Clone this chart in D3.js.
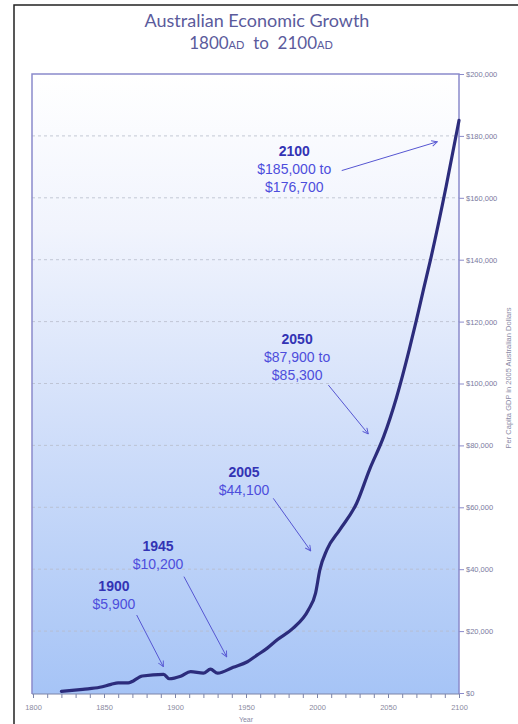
<!DOCTYPE html>
<html><head><meta charset="utf-8">
<script src="https://cdn.jsdelivr.net/npm/d3@7"></script>
<style>html,body{margin:0;padding:0;background:#fff;}svg{display:block;}</style>
</head><body>
<script>
const years = [1820,1835,1847,1855,1860,1867,1877,1892,1896,1904,1911,1920,1925,1930,1941,1951,1958,1965,1972,1983,1994,1999,2002,2007,2016,2028,2037,2047,2056,2065,2070,2075,2080,2091,2100];
const gdp   = [500,1200,1840,2800,3300,3300,5500,6000,4600,5400,6900,6400,7700,6400,8300,10100,12300,14500,17200,20900,26900,32300,39800,46300,52700,61400,72200,82900,95500,111000,120500,130400,140100,163800,185000];
const xTickLabels = [1800,1850,1900,1950,2000,2050,2100];
const yTickValues = [0,20000,40000,60000,80000,100000,120000,140000,160000,180000,200000];
const annYears  = ["2100","2050","2005","1945","1900"];
const annValues = [["$185,000 to","$176,700"],["$87,900 to","$85,300"],["$44,100"],["$10,200"],["$5,900"]];
// text anchor (year,value) and arrow from/to in data space
const annTextAt = [[1984,173500],[1986,112800],[1948.6,69800],[1888,45900],[1857,33000]];
const annFrom   = [[2017.4,168800],[2008,99500],[1969.2,62900],[1906.3,37600],[1873,25200]];
const annTo     = [[2084.7,178100],[2036.1,83700],[1995.6,45900],[1936.4,11700],[1891.8,8500]];

const W = 518, H = 724;
const svg = d3.select("body").append("svg").attr("width", W).attr("height", H);
const m = {left:32, right:459, top:74, bottom:694};

const x = d3.scaleLinear().domain([1800,2100]).range([33,459]);
const y = d3.scaleLinear().domain([0,200000]).range([693,74]);

// outer frame
svg.append("rect").attr("x",14).attr("y",5).attr("width",520).attr("height",740)
  .attr("fill","none").attr("stroke","#222").attr("stroke-width",1.5);

// title
svg.append("text").attr("x",257).attr("y",27).attr("text-anchor","middle")
  .attr("font-family","Lato, 'Open Sans', sans-serif").attr("font-size",18)
  .attr("fill","#5b5b9c").text("Australian Economic Growth");
const sub = svg.append("text").attr("x",261).attr("y",49).attr("text-anchor","middle")
  .attr("font-family","Lato, 'Open Sans', sans-serif").attr("font-size",17).attr("fill","#5b5b9c")
  .attr("xml:space","preserve");
sub.append("tspan").text("1800");
sub.append("tspan").attr("font-size",11).text("AD");
sub.append("tspan").text("  to  ");
sub.append("tspan").text("2100");
sub.append("tspan").attr("font-size",11).text("AD");

// gradient
const defs = svg.append("defs");
const g = defs.append("linearGradient").attr("id","bg").attr("x1",0).attr("y1",0).attr("x2",0).attr("y2",1);
[["0%","#ffffff"],["25%","#f1f4fd"],["55%","#d3e0fa"],["100%","#a6c4f6"]].forEach(s=>g.append("stop").attr("offset",s[0]).attr("stop-color",s[1]));
defs.append("marker").attr("id","ah").attr("viewBox","0 0 10 10").attr("refX",9).attr("refY",5)
  .attr("markerWidth",7).attr("markerHeight",7).attr("orient","auto")
  .append("path").attr("d","M1,1 L9,5 L1,9").attr("fill","none").attr("stroke","#5656d2").attr("stroke-width",1.3);

svg.append("rect").attr("x",m.left).attr("y",m.top).attr("width",m.right-m.left).attr("height",m.bottom-m.top)
  .attr("fill","url(#bg)");

// gridlines
svg.append("g").selectAll("line").data(yTickValues.filter(v=>v>0 && v<200000)).join("line")
  .attr("x1",m.left).attr("x2",m.right).attr("y1",d=>y(d)).attr("y2",d=>y(d))
  .attr("stroke","#b8bccc").attr("stroke-width",0.8).attr("stroke-dasharray","3,3");

// plot frame
svg.append("path").attr("d",`M${m.left},${m.bottom}V${m.top}H${m.right}V${m.bottom}`)
  .attr("fill","none").attr("stroke","#8b8bcb").attr("stroke-width",1.5);
svg.append("line").attr("x1",m.left).attr("x2",m.right).attr("y1",m.bottom).attr("y2",m.bottom)
  .attr("stroke","#7c84a8").attr("stroke-width",1);

// right axis
const ya = d3.axisRight(y).tickValues(yTickValues).tickSize(5).tickFormat(d=>"$"+d3.format(",")(d));
const yg = svg.append("g").attr("transform",`translate(${m.right},0)`).call(ya);
yg.select(".domain").remove();
yg.selectAll("line").attr("stroke","#8b8bcb");
yg.selectAll("text").attr("font-family","Arial, 'Liberation Sans', sans-serif").attr("font-size",7.5)
  .attr("fill","#7a7a9e").attr("x",7);

svg.append("text").attr("transform","translate(511,378) rotate(-90)").attr("text-anchor","middle")
  .attr("font-family","Arial, 'Liberation Sans', sans-serif").attr("font-size",7.5).attr("fill","#8a8aa6")
  .text("Per Capita GDP in 2005 Australian Dollars");

// bottom axis
const xa = d3.axisBottom(x).tickValues(d3.range(1800,2101,10)).tickSize(4).tickFormat(d=>xTickLabels.includes(d)?d:"");
const xg = svg.append("g").attr("transform",`translate(0,${m.bottom})`).call(xa);
xg.select(".domain").remove();
xg.selectAll("line").attr("stroke","#7c84a8");
xg.selectAll("text").attr("font-family","Arial, 'Liberation Sans', sans-serif").attr("font-size",7.5)
  .attr("fill","#8a8aa0").attr("y",11);
svg.append("text").attr("x",246).attr("y",722).attr("text-anchor","middle")
  .attr("font-family","Arial, 'Liberation Sans', sans-serif").attr("font-size",7).attr("fill","#8a8aa6").text("Year");

// line
const pts = years.map((yr,i)=>[yr,gdp[i]]);
svg.append("path").datum(pts)
  .attr("d", d3.line().x(d=>x(d[0])).y(d=>y(d[1])).curve(d3.curveMonotoneX))
  .attr("fill","none").attr("stroke","#2c2c7c").attr("stroke-width",3.2).attr("stroke-linejoin","round").attr("stroke-linecap","round");

// annotations
annYears.forEach((yr,i)=>{
  const tx = x(annTextAt[i][0]), ty = y(annTextAt[i][1]);
  const t = svg.append("text").attr("x",tx).attr("y",ty).attr("text-anchor","middle")
    .attr("font-family","Arial, 'Liberation Sans', sans-serif").attr("font-size",14);
  t.append("tspan").attr("x",tx).attr("font-weight","bold").attr("fill","#3333b4").text(yr);
  annValues[i].forEach(v=>t.append("tspan").attr("x",tx).attr("dy",18).attr("fill","#4d4ddc").text(v));
  svg.append("line").attr("x1",x(annFrom[i][0])).attr("y1",y(annFrom[i][1]))
    .attr("x2",x(annTo[i][0])).attr("y2",y(annTo[i][1]))
    .attr("stroke","#5656d2").attr("stroke-width",1).attr("marker-end","url(#ah)");
});
</script>
</body></html>
